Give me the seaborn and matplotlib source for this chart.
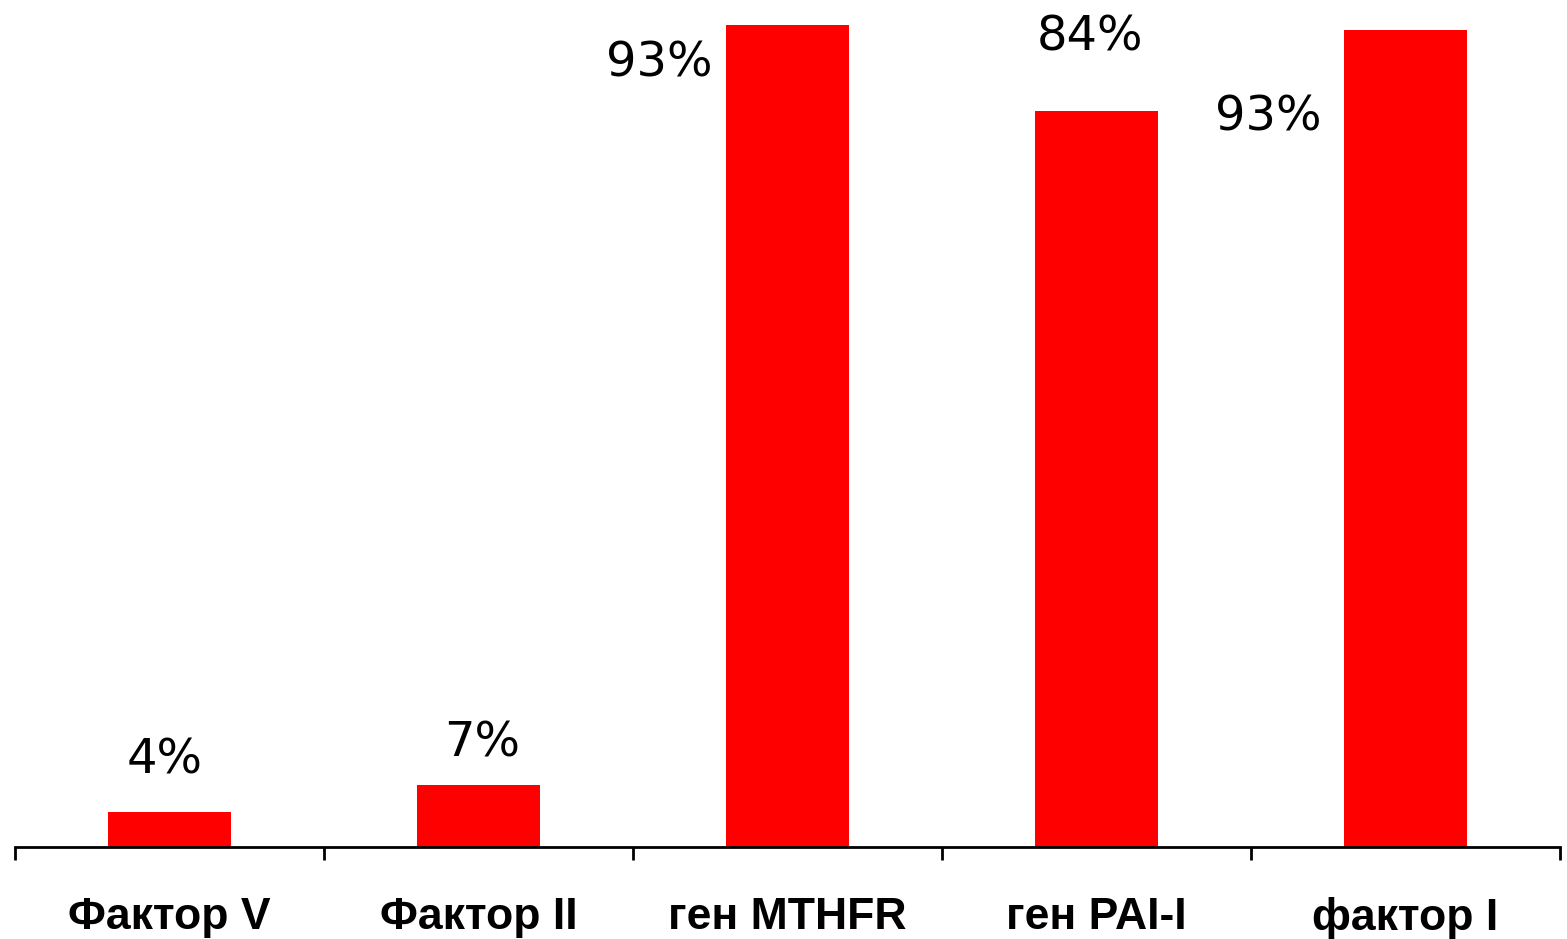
import numpy as np
import pandas as pd
import seaborn as sns
import matplotlib.pyplot as plt

# data
categories = ["Фактор V", "Фактор II", "ген MTHFR", "ген PAI-I", "фактор I"]
values = [4, 7, 93, 83.3, 92.4]
value_labels = ["4%", "7%", "93%", "84%", "93%"]

# label placement relative to bar top (pixels), alignment
label_dx = [-5, 4, -75, -7, -84]
label_dy = [52, 42, -38, 74, -87]
label_ha = ["center", "center", "right", "center", "right"]

sns.set_style("white")
plt.rcParams["font.family"] = ["DejaVu Sans"]

df = pd.DataFrame({"cat": categories, "val": values})

fig = plt.figure(figsize=(15.67, 9.39), dpi=100)
ax = fig.add_axes([15 / 1567, 92 / 939, 1545 / 1567, 847 / 939])

sns.barplot(data=df, x="cat", y="val", color="#ff0000", saturation=1,
            width=0.4, linewidth=0, ax=ax)

ax.set_xlim(-0.5, len(categories) - 0.5)
ax.set_ylim(0, 847 / 8.84)

for i, (v, lab) in enumerate(zip(values, value_labels)):
    ax.annotate(lab, xy=(i, v), xytext=(label_dx[i], label_dy[i]),
                textcoords="offset pixels", ha=label_ha[i], va="center",
                fontsize=34.5, family="DejaVu Sans", color="black")

for s in ["top", "right", "left"]:
    ax.spines[s].set_visible(False)
ax.spines["bottom"].set_linewidth(2)
ax.spines["bottom"].set_color("black")
ax.set_yticks([])

ax.set_xticks(np.arange(-0.5, len(categories)), minor=False)
ax.set_xticklabels([])
ax.set_xticks(np.arange(len(categories)), minor=True)
ax.set_xticklabels(categories, minor=True, fontsize=32, fontweight="bold",
                   family="Liberation Sans", color="black")
ax.tick_params(axis="x", which="major", direction="out", length=9,
               width=2, color="black", bottom=True)
ax.tick_params(axis="x", which="minor", length=0, pad=36, labelcolor="black")
ax.set_xlabel("")
ax.set_ylabel("")

fig.savefig("out.png", dpi=100, facecolor="white")
